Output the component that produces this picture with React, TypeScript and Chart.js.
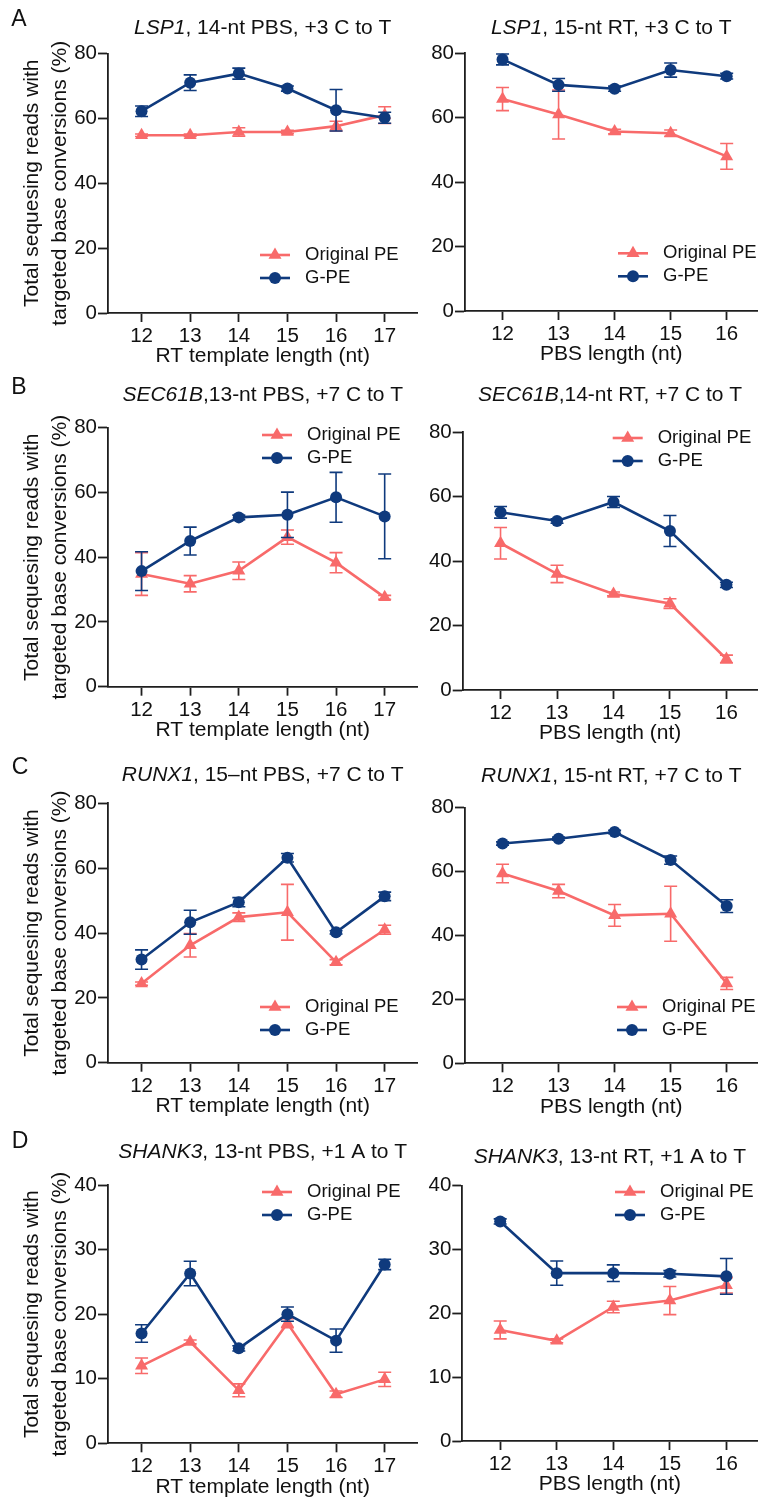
import React, { useEffect, useRef } from 'react';
import { Chart, registerables } from 'chart.js';

Chart.register(...registerables);

const FONT = "'Liberation Sans', Arial, Helvetica, sans-serif";
const INK = '#111111';
const AXIS = '#1e1e1e';
const ORIGINAL_COLOR = '#F86A6A';
const GPE_COLOR = '#0F3A7D';

const SERIES_LABELS = ['Original PE', 'G-PE'];
const RT_LENGTHS = [12, 13, 14, 15, 16, 17];
const PBS_LENGTHS = [12, 13, 14, 15, 16];
const RT_AXIS_TITLE = 'RT template length (nt)';
const PBS_AXIS_TITLE = 'PBS length (nt)';
const Y_AXIS_TITLE = ['Total sequesing reads with', 'targeted base conversions (%)'];
const Y_TICKS_80 = [0, 20, 40, 60, 80];
const Y_TICKS_40 = [0, 10, 20, 30, 40];

// LSP1 (+3 C to T)
const LSP1_RT_ORIGINAL = [54.8, 54.8, 55.8, 55.8, 57.6, 61.0];
const LSP1_RT_ORIGINAL_ERR = [0.4, 0.4, 1.3, 0.5, 1.5, 2.6];
const LSP1_RT_GPE = [62.2, 71.0, 73.8, 69.2, 62.5, 60.2];
const LSP1_RT_GPE_ERR = [1.6, 2.4, 1.7, 0.8, 6.4, 1.7];
const LSP1_PBS_ORIGINAL = [65.8, 61.0, 55.7, 55.2, 48.0];
const LSP1_PBS_ORIGINAL_ERR = [3.6, 7.6, 0.7, 1.0, 4.0];
const LSP1_PBS_GPE = [78.1, 70.2, 69.0, 74.8, 72.9];
const LSP1_PBS_GPE_ERR = [1.7, 2.0, 0.8, 2.2, 0.9];

// SEC61B (+7 C to T)
const SEC61B_RT_ORIGINAL = [34.8, 31.8, 35.8, 46.2, 38.3, 27.6];
const SEC61B_RT_ORIGINAL_ERR = [6.6, 2.5, 2.7, 2.2, 3.1, 0.6];
const SEC61B_RT_GPE = [35.7, 45.0, 52.3, 53.1, 58.5, 52.6];
const SEC61B_RT_GPE_ERR = [6.0, 4.3, 0.7, 7.0, 7.7, 13.1];
const SEC61B_PBS_ORIGINAL = [45.5, 36.0, 29.8, 26.8, 9.6];
const SEC61B_PBS_ORIGINAL_ERR = [4.9, 2.7, 0.6, 1.5, 1.2];
const SEC61B_PBS_GPE = [55.1, 52.4, 58.3, 49.3, 32.6];
const SEC61B_PBS_GPE_ERR = [1.8, 0.7, 1.7, 4.8, 0.8];

// RUNX1 (+7 C to T)
const RUNX1_RT_ORIGINAL = [24.4, 36.2, 44.9, 46.4, 31.0, 41.0];
const RUNX1_RT_ORIGINAL_ERR = [0.5, 3.6, 1.3, 8.6, 0.8, 1.4];
const RUNX1_RT_GPE = [31.8, 43.3, 49.5, 63.2, 40.2, 51.3];
const RUNX1_RT_GPE_ERR = [3.0, 3.7, 1.4, 1.3, 0.5, 1.3];
const RUNX1_PBS_ORIGINAL = [59.4, 53.9, 46.3, 46.8, 25.0];
const RUNX1_PBS_ORIGINAL_ERR = [2.9, 2.1, 3.4, 8.6, 1.9];
const RUNX1_PBS_GPE = [68.8, 70.3, 72.4, 63.6, 49.2];
const RUNX1_PBS_GPE_ERR = [0.5, 0.5, 0.5, 1.3, 2.0];

// SHANK3 (+1 A to T)
const SHANK3_RT_ORIGINAL = [12.0, 15.7, 8.2, 18.6, 7.6, 9.9];
const SHANK3_RT_ORIGINAL_ERR = [1.2, 0.3, 1.0, 0.7, 0.5, 1.1];
const SHANK3_RT_GPE = [17.0, 26.3, 14.7, 20.0, 15.9, 27.7];
const SHANK3_RT_GPE_ERR = [1.35, 1.9, 0.4, 1.1, 1.8, 0.8];
const SHANK3_PBS_ORIGINAL = [17.4, 15.7, 21.0, 22.0, 24.4];
const SHANK3_PBS_ORIGINAL_ERR = [1.4, 0.3, 0.9, 2.2, 1.2];
const SHANK3_PBS_GPE = [34.4, 26.3, 26.3, 26.2, 25.8];
const SHANK3_PBS_GPE_ERR = [0.4, 1.9, 1.3, 0.5, 2.8];

// Page grid: canvas slots per column and row
const COLS = [
  { x: 0, w: 425, xMin: 11.31, xMax: 17.675 },
  { x: 425, w: 340, xMin: 11.33, xMax: 16.55 },
];
const ROWS = [
  { y: 0, h: 370 },
  { y: 370, h: 380 },
  { y: 750, h: 380 },
  { y: 1130, h: 371 },
];
const X_AXIS_HEIGHT = 57;

type Panel = {
  letter?: string;
  letterPos?: [number, number];
  gene: string;
  rest: string;
  xs: number[];
  xTitle: string;
  yTicks: number[];
  original: number[];
  originalErr: number[];
  gpe: number[];
  gpeErr: number[];
  col: number;
  row: number;
  area: { l: number; r: number; t: number; b: number };
  titleY: number;
  legend: { dx: number; dy: number };
};

const PANELS: Panel[] = [
  {
    letter: 'A', letterPos: [19, 20], gene: 'LSP1', rest: ', 14-nt PBS, +3 C to T',
    xs: RT_LENGTHS, xTitle: RT_AXIS_TITLE, yTicks: Y_TICKS_80,
    original: LSP1_RT_ORIGINAL, originalErr: LSP1_RT_ORIGINAL_ERR, gpe: LSP1_RT_GPE, gpeErr: LSP1_RT_GPE_ERR,
    col: 0, row: 0, area: { l: 108, r: 419, t: 53.5, b: 313 }, titleY: 28, legend: { dx: 152, dy: 201.5 },
  },
  {
    gene: 'LSP1', rest: ', 15-nt RT, +3 C to T',
    xs: PBS_LENGTHS, xTitle: PBS_AXIS_TITLE, yTicks: Y_TICKS_80,
    original: LSP1_PBS_ORIGINAL, originalErr: LSP1_PBS_ORIGINAL_ERR, gpe: LSP1_PBS_GPE, gpeErr: LSP1_PBS_GPE_ERR,
    col: 1, row: 0, area: { l: 465, r: 765, t: 53.3, b: 311 }, titleY: 28, legend: { dx: 153, dy: 200 },
  },
  {
    letter: 'B', letterPos: [19, 388], gene: 'SEC61B', rest: ',13-nt PBS, +7 C to T',
    xs: RT_LENGTHS, xTitle: RT_AXIS_TITLE, yTicks: Y_TICKS_80,
    original: SEC61B_RT_ORIGINAL, originalErr: SEC61B_RT_ORIGINAL_ERR, gpe: SEC61B_RT_GPE, gpeErr: SEC61B_RT_GPE_ERR,
    col: 0, row: 1, area: { l: 108, r: 419, t: 427.7, b: 686.7 }, titleY: 395, legend: { dx: 154, dy: 7.3 },
  },
  {
    gene: 'SEC61B', rest: ',14-nt RT, +7 C to T',
    xs: PBS_LENGTHS, xTitle: PBS_AXIS_TITLE, yTicks: Y_TICKS_80,
    original: SEC61B_PBS_ORIGINAL, originalErr: SEC61B_PBS_ORIGINAL_ERR, gpe: SEC61B_PBS_GPE, gpeErr: SEC61B_PBS_GPE_ERR,
    col: 1, row: 1, area: { l: 462.7, r: 765, t: 432, b: 690 }, titleY: 395, legend: { dx: 150, dy: 6 },
  },
  {
    letter: 'C', letterPos: [20, 768], gene: 'RUNX1', rest: ', 15\u2013nt PBS, +7 C to T',
    xs: RT_LENGTHS, xTitle: RT_AXIS_TITLE, yTicks: Y_TICKS_80,
    original: RUNX1_RT_ORIGINAL, originalErr: RUNX1_RT_ORIGINAL_ERR, gpe: RUNX1_RT_GPE, gpeErr: RUNX1_RT_GPE_ERR,
    col: 0, row: 2, area: { l: 108, r: 419, t: 803.3, b: 1062.7 }, titleY: 775, legend: { dx: 152, dy: 203.7 },
  },
  {
    gene: 'RUNX1', rest: ', 15-nt RT, +7 C to T',
    xs: PBS_LENGTHS, xTitle: PBS_AXIS_TITLE, yTicks: Y_TICKS_80,
    original: RUNX1_PBS_ORIGINAL, originalErr: RUNX1_PBS_ORIGINAL_ERR, gpe: RUNX1_PBS_GPE, gpeErr: RUNX1_PBS_GPE_ERR,
    col: 1, row: 2, area: { l: 465, r: 765, t: 807.7, b: 1063.3 }, titleY: 776, legend: { dx: 152, dy: 199.3 },
  },
  {
    letter: 'D', letterPos: [20, 1142], gene: 'SHANK3', rest: ', 13-nt PBS, +1 A to T',
    xs: RT_LENGTHS, xTitle: RT_AXIS_TITLE, yTicks: Y_TICKS_40,
    original: SHANK3_RT_ORIGINAL, originalErr: SHANK3_RT_ORIGINAL_ERR, gpe: SHANK3_RT_GPE, gpeErr: SHANK3_RT_GPE_ERR,
    col: 0, row: 3, area: { l: 108, r: 419, t: 1185, b: 1443.3 }, titleY: 1152, legend: { dx: 154, dy: 7 },
  },
  {
    gene: 'SHANK3', rest: ', 13-nt RT, +1 A to T',
    xs: PBS_LENGTHS, xTitle: PBS_AXIS_TITLE, yTicks: Y_TICKS_40,
    original: SHANK3_PBS_ORIGINAL, originalErr: SHANK3_PBS_ORIGINAL_ERR, gpe: SHANK3_PBS_GPE, gpeErr: SHANK3_PBS_GPE_ERR,
    col: 1, row: 3, area: { l: 462.3, r: 765, t: 1185.7, b: 1441 }, titleY: 1157, legend: { dx: 152.7, dy: 6.3 },
  },
];

function drawMarker(ctx: CanvasRenderingContext2D, style: string, x: number, y: number, r: number, color: string) {
  ctx.save();
  ctx.fillStyle = color;
  ctx.beginPath();
  if (style === 'triangle') {
    let rad = 0;
    ctx.moveTo(x + Math.sin(rad) * r, y - Math.cos(rad) * r);
    rad += (2 * Math.PI) / 3;
    ctx.lineTo(x + Math.sin(rad) * r, y - Math.cos(rad) * r);
    rad += (2 * Math.PI) / 3;
    ctx.lineTo(x + Math.sin(rad) * r, y - Math.cos(rad) * r);
    ctx.closePath();
  } else {
    ctx.arc(x, y, r, 0, Math.PI * 2);
  }
  ctx.fill();
  ctx.restore();
}

// Vertical mean ± error whiskers, drawn just beneath each series
const errorBarPlugin = {
  id: 'errorBars',
  beforeDatasetDraw(chart: any, args: any) {
    const ds = chart.data.datasets[args.index];
    const errs: number[] | undefined = ds.errorBars;
    if (!errs) return;
    const xs = chart.scales.x;
    const ys = chart.scales.y;
    const ctx: CanvasRenderingContext2D = chart.ctx;
    const cap = 6.5;
    ctx.save();
    ctx.strokeStyle = ds.borderColor;
    ctx.lineWidth = 1.6;
    ds.data.forEach((p: { x: number; y: number }, j: number) => {
      const e = errs[j];
      if (!e) return;
      const x = xs.getPixelForValue(p.x);
      const yHi = ys.getPixelForValue(p.y + e);
      const yLo = ys.getPixelForValue(p.y - e);
      ctx.beginPath();
      ctx.moveTo(x, yHi);
      ctx.lineTo(x, yLo);
      ctx.moveTo(x - cap, yHi);
      ctx.lineTo(x + cap, yHi);
      ctx.moveTo(x - cap, yLo);
      ctx.lineTo(x + cap, yLo);
      ctx.stroke();
    });
    ctx.restore();
  },
};

// Panel heading: italic gene name followed by the construct description, plus the panel letter
const titlePlugin = {
  id: 'panelTitle',
  afterDraw(chart: any, _args: any, opts: any) {
    const ctx: CanvasRenderingContext2D = chart.ctx;
    const { chartArea } = chart;
    const size = 21;
    ctx.save();
    ctx.fillStyle = INK;
    ctx.textBaseline = 'middle';
    ctx.textAlign = 'left';
    ctx.font = `italic ${size}px ${FONT}`;
    const w1 = ctx.measureText(opts.gene).width;
    ctx.font = `${size}px ${FONT}`;
    const w2 = ctx.measureText(opts.rest).width;
    const cx = (chartArea.left + chartArea.right) / 2 + (opts.dx || 0);
    const x0 = cx - (w1 + w2) / 2;
    ctx.font = `italic ${size}px ${FONT}`;
    ctx.fillText(opts.gene, x0, opts.y);
    ctx.font = `${size}px ${FONT}`;
    ctx.fillText(opts.rest, x0 + w1, opts.y);
    if (opts.letter) {
      ctx.font = `23px ${FONT}`;
      ctx.textAlign = 'center';
      ctx.fillText(opts.letter, opts.letterX, opts.letterY);
    }
    ctx.restore();
  },
};

// Legend box placed inside the plotting area
const legendPlugin = {
  id: 'panelLegend',
  afterDraw(chart: any, _args: any, opts: any) {
    const ctx: CanvasRenderingContext2D = chart.ctx;
    const { chartArea } = chart;
    const x0 = chartArea.left + opts.dx;
    let y = chartArea.top + opts.dy;
    ctx.save();
    chart.data.datasets.forEach((ds: any) => {
      ctx.strokeStyle = ds.borderColor;
      ctx.lineWidth = 2.6;
      ctx.beginPath();
      ctx.moveTo(x0, y);
      ctx.lineTo(x0 + 30, y);
      ctx.stroke();
      drawMarker(ctx, ds.pointStyle, x0 + 15, y, ds.pointRadius, ds.borderColor);
      ctx.fillStyle = INK;
      ctx.font = `18.5px ${FONT}`;
      ctx.textAlign = 'left';
      ctx.textBaseline = 'middle';
      ctx.fillText(ds.label, x0 + 45, y);
      y += 23;
    });
    ctx.restore();
  },
};

function buildConfig(p: Panel): any {
  const col = COLS[p.col];
  const row = ROWS[p.row];
  const l = p.area.l - col.x;
  const r = p.area.r - col.x;
  const t = p.area.t - row.y;
  const b = p.area.b - row.y;
  const yWidth = p.col === 0 ? l : 40;
  const yMax = p.yTicks[p.yTicks.length - 1];

  return {
    type: 'line',
    data: {
      datasets: [
        {
          label: SERIES_LABELS[0],
          data: p.xs.map((x, i) => ({ x, y: p.original[i] })),
          errorBars: p.originalErr,
          borderColor: ORIGINAL_COLOR,
          backgroundColor: ORIGINAL_COLOR,
          pointBackgroundColor: ORIGINAL_COLOR,
          pointStyle: 'triangle',
          pointRadius: 7.5,
          pointBorderWidth: 0,
          borderWidth: 2.6,
          tension: 0,
          clip: false,
          order: 2,
        },
        {
          label: SERIES_LABELS[1],
          data: p.xs.map((x, i) => ({ x, y: p.gpe[i] })),
          errorBars: p.gpeErr,
          borderColor: GPE_COLOR,
          backgroundColor: GPE_COLOR,
          pointBackgroundColor: GPE_COLOR,
          pointStyle: 'circle',
          pointRadius: 6,
          pointBorderWidth: 0,
          borderWidth: 2.6,
          tension: 0,
          clip: false,
          order: 1,
        },
      ],
    },
    options: {
      responsive: false,
      animation: false,
      devicePixelRatio: 1,
      events: [],
      layout: {
        padding: {
          left: l - yWidth,
          right: col.w - r,
          top: t,
          bottom: row.h - b - X_AXIS_HEIGHT,
        },
      },
      plugins: {
        legend: { display: false },
        tooltip: { enabled: false },
        panelTitle: {
          gene: p.gene,
          rest: p.rest,
          y: p.titleY - row.y,
          letter: p.letter,
          letterX: p.letterPos ? p.letterPos[0] - col.x : 0,
          letterY: p.letterPos ? p.letterPos[1] - row.y : 0,
        },
        panelLegend: { dx: p.legend.dx, dy: p.legend.dy },
      },
      scales: {
        x: {
          type: 'linear',
          min: col.xMin,
          max: col.xMax,
          afterBuildTicks: (s: any) => {
            s.ticks = p.xs.map((v) => ({ value: v }));
          },
          afterFit: (s: any) => {
            s.height = X_AXIS_HEIGHT;
          },
          grid: { drawOnChartArea: false, drawTicks: true, tickLength: 9, tickWidth: 1.8, tickColor: AXIS },
          border: { display: true, color: AXIS, width: 1.8 },
          ticks: {
            color: INK,
            font: { family: FONT, size: 20.5 },
            padding: 2,
            maxRotation: 0,
            autoSkip: false,
            callback: (v: any) => String(v),
          },
          title: {
            display: true,
            text: p.xTitle,
            color: INK,
            font: { family: FONT, size: 21, lineHeight: 1.2 },
            padding: { top: 0, bottom: 0.9 },
          },
        },
        y: {
          type: 'linear',
          min: 0,
          max: yMax,
          afterBuildTicks: (s: any) => {
            s.ticks = p.yTicks.map((v) => ({ value: v }));
          },
          afterFit: (s: any) => {
            s.width = yWidth;
          },
          grid: { drawOnChartArea: false, drawTicks: true, tickLength: 10, tickWidth: 1.8, tickColor: AXIS },
          border: { display: true, color: AXIS, width: 1.8 },
          ticks: {
            color: INK,
            font: { family: FONT, size: 20.5 },
            padding: 1,
            callback: (v: any) => String(v),
          },
          title: {
            display: p.col === 0,
            text: Y_AXIS_TITLE,
            color: INK,
            font: { family: FONT, size: 21, lineHeight: 1.333 },
            padding: { top: 18, bottom: 0 },
          },
        },
      },
    },
    plugins: [errorBarPlugin, titlePlugin, legendPlugin],
  };
}

function PanelChart({ panel }: { panel: Panel }) {
  const ref = useRef<HTMLCanvasElement | null>(null);
  const col = COLS[panel.col];
  const row = ROWS[panel.row];
  useEffect(() => {
    if (!ref.current) return;
    const chart = new Chart(ref.current, buildConfig(panel));
    return () => chart.destroy();
  }, [panel]);
  return (
    <canvas
      ref={ref}
      width={col.w}
      height={row.h}
      style={{ position: 'absolute', left: col.x, top: row.y, width: col.w, height: row.h }}
    />
  );
}

export default function App() {
  return (
    <div
      style={{
        position: 'absolute',
        left: 0,
        top: 0,
        width: 765,
        height: 1501,
        background: '#ffffff',
        overflow: 'hidden',
      }}
    >
      {PANELS.map((p, i) => (
        <PanelChart key={i} panel={p} />
      ))}
    </div>
  );
}
